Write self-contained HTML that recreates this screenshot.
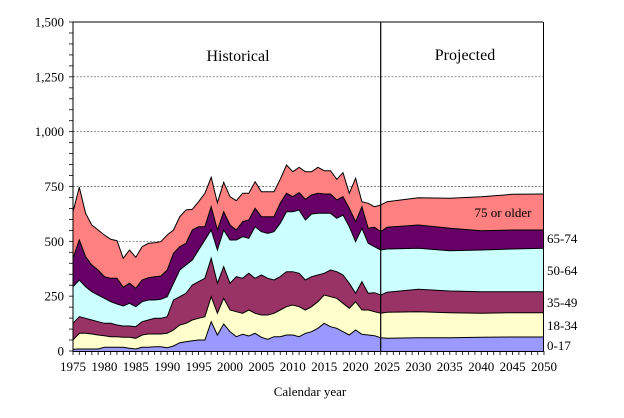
<!DOCTYPE html>
<html><head><meta charset="utf-8"><style>
body{margin:0;background:#fff;width:624px;height:413px;overflow:hidden}
svg text{font-family:"Liberation Serif",serif;fill:#000}
</style></head><body>
<svg id="s" width="624" height="413" xmlns="http://www.w3.org/2000/svg"></svg>
<script>
const S=document.getElementById('s');
let h='';
const X0=73,DX=6.28,Y0=351,K=329/1500;
function yv(v){return Y0-v*K}
// gridlines
[250,500,750,1000,1250].forEach(v=>{h+=`<line x1="73" x2="543" y1="${yv(v)}" y2="${yv(v)}" stroke="#555" stroke-width="0.7" stroke-dasharray="2,1.5"/>`});
const z={
pink:[185,112,190,225,240,255,268,272,325,300,322,290,280,278,275,255,240,200,180,178,155,130,82,158,97,140,152,130,130,95,125,125,125,88,45,65,52,65,65,52,62,62,88,68,130,85,155,160,170,165],
dark:[325,270,320,345,360,380,385,385,412,400,415,390,383,380,378,360,310,290,280,240,230,230,170,240,185,225,240,215,210,175,200,200,200,160,130,140,128,148,135,130,132,132,150,140,175,215,170,235,232,245],
cyan:[410,390,410,425,435,445,455,462,468,460,470,455,450,450,448,440,400,360,345,330,300,270,240,300,240,270,270,260,265,230,245,250,245,220,185,185,180,210,192,190,190,190,205,195,230,275,235,280,290,300],
red:[520,500,505,510,515,520,520,525,528,528,530,515,510,505,505,500,450,440,430,405,395,385,325,400,350,400,380,385,370,385,375,385,390,380,365,365,370,390,380,375,370,360,365,375,400,430,395,430,428,435],
yel:[570,550,550,552,555,557,560,560,562,562,565,555,552,552,552,550,540,525,520,510,505,500,440,490,445,480,485,490,480,490,495,495,490,480,470,465,470,480,470,455,435,440,445,460,475,455,480,480,485,490],
blue:[598,597,597,597,597,592,592,592,592,595,597,592,592,590,590,593,588,578,575,572,570,570,515,555,522,545,560,553,558,550,562,568,560,560,555,555,560,550,545,535,520,530,535,545,555,540,553,555,557,563]};
const proj={pink:[201.7,197.7,198.3,196.7,194.3,194],dark:[227.3,225,228.3,230.7,230,230],cyan:[249,248.3,250.7,250,249,248.3],red:[292.3,289.3,291,291.7,291.7,291.7],yel:[312.3,311.7,312.7,313.3,312.7,312.7],blue:[338.3,337.7,337.7,337.3,337,337]};
const projYears=[2025,2030,2035,2040,2045,2050];
const cols={pink:'#ff8080',dark:'#660066',cyan:'#ccffff',red:'#993366',yel:'#ffffcc',blue:'#9999ff'};
function pts(k){
 let p=z[k].map((zy,i)=>[X0+i*DX,150+zy/3]);
 projYears.forEach((yr,j)=>{p.push([X0+(yr-1975)*DX,proj[k][j]])});
 return p;
}
['pink','dark','cyan','red','yel','blue'].forEach(k=>{
 const p=pts(k);
 let d='M73,351 '+p.map(a=>'L'+a[0].toFixed(1)+','+a[1].toFixed(1)).join(' ')+' L544,351 Z';
 h+=`<path d="${d}" fill="${cols[k]}" stroke="none"/>`;
 h+=`<polyline points="${p.map(a=>a[0].toFixed(1)+','+a[1].toFixed(1)).join(' ')}" fill="none" stroke="#000" stroke-width="1"/>`;
});
// top gridline above plot & frame
h+=`<line x1="73" x2="543" y1="22" y2="22" stroke="#000" stroke-width="1"/>`;
h+=`<line x1="543.5" x2="543.5" y1="22" y2="351" stroke="#000" stroke-width="1"/>`;
h+=`<line x1="380.7" x2="380.7" y1="22" y2="351" stroke="#000" stroke-width="1.2"/>`;
// axes
h+=`<line x1="73" x2="73" y1="22" y2="352" stroke="#000" stroke-width="1"/>`;
h+=`<line x1="73" x2="544" y1="351.5" y2="351.5" stroke="#000" stroke-width="1"/>`;
for(let v=0;v<=1500;v+=50){const y=yv(v);h+=`<line x1="69" x2="73" y1="${y}" y2="${y}" stroke="#000" stroke-width="0.8"/>`;}
[0,250,500,750,1000,1250,1500].forEach(v=>{h+=`<text x="64" y="${yv(v)+4.5}" font-size="13" text-anchor="end">${v.toLocaleString('en-US')}</text>`});
for(let yr=1975;yr<=2050;yr++){const x=X0+(yr-1975)*DX;h+=`<line x1="${x}" x2="${x}" y1="351" y2="355" stroke="#000" stroke-width="0.8"/>`;
 if(yr%5==0)h+=`<text x="${x}" y="371" font-size="13" text-anchor="middle">${yr}</text>`;}
h+=`<text x="310" y="396" font-size="13" text-anchor="middle">Calendar year</text>`;
h+=`<text x="238" y="61" font-size="16" text-anchor="middle">Historical</text>`;
h+=`<text x="465" y="60" font-size="16" text-anchor="middle">Projected</text>`;
h+=`<text x="503" y="217" font-size="13" text-anchor="middle">75 or older</text>`;
[['65-74',243],['50-64',275],['35-49',307],['18-34',330],['0-17',350]].forEach(a=>{h+=`<text x="547" y="${a[1]}" font-size="13">${a[0]}</text>`});
S.innerHTML=h;
</script>
</body></html>
